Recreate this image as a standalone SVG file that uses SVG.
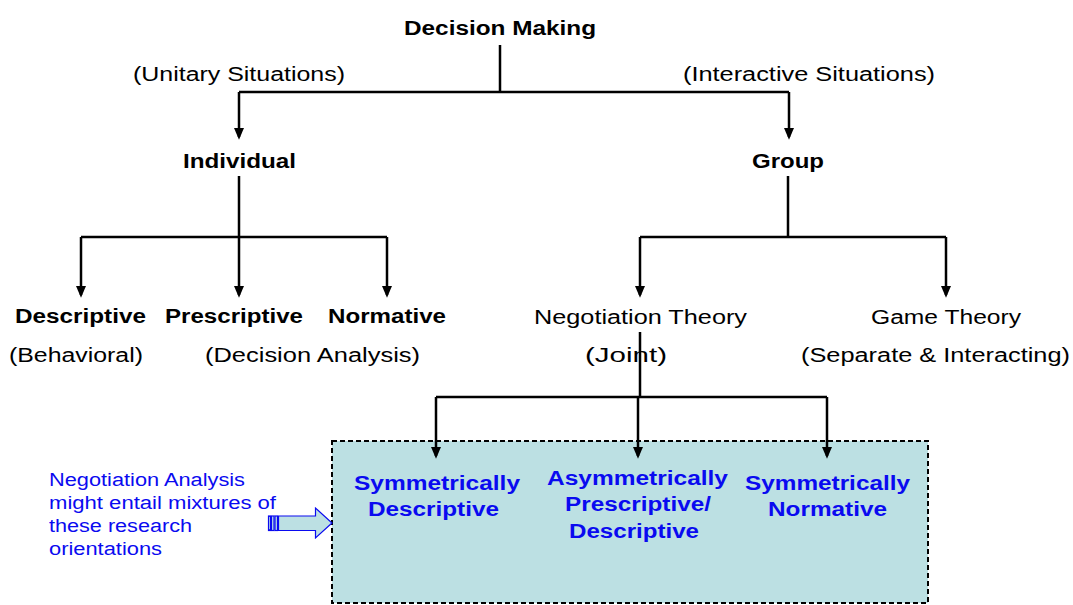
<svg xmlns="http://www.w3.org/2000/svg" width="1073" height="605" viewBox="0 0 1073 605">
  <style>
    .t { font-family: "Liberation Sans", Arial, sans-serif; font-size: 20px; fill: #000; text-anchor: start; }
    .b { font-weight: bold; }
    .blue { fill: #0a0af0; font-weight: bold; }
    .note { font-family: "Liberation Sans", Arial, sans-serif; font-size: 18px; fill: #0a0af0; }
    .wire { stroke: #000; stroke-width: 2.5; fill: none; }
    .arr { marker-end: url(#ah); }
  </style>
  <defs>
    <marker id="ah" markerUnits="userSpaceOnUse" markerWidth="12" markerHeight="14" viewBox="0 0 13 11" refX="10" refY="5.5" orient="auto">
      <path d="M0,0 L13,5.5 L0,11 Z" fill="#000"/>
    </marker>
  </defs>

  <rect width="1073" height="605" fill="#fff"/>

  <!-- shaded region holding the negotiation orientations -->
  <g id="orientations-box">
    <rect x="332" y="441" width="596" height="162" fill="#bce0e3" stroke="#000" stroke-width="2" stroke-dasharray="5,3"/>
  </g>

  <!-- connectors -->
  <g id="connectors">
    <path class="wire" d="M500,45 V92 M239,92 H789"/>
    <path class="wire arr" d="M239,92 V137"/>
    <path class="wire arr" d="M789,92 V137"/>

    <path class="wire arr" d="M239,176 V295"/>
    <path class="wire" d="M81,237 H387"/>
    <path class="wire arr" d="M81,237 V295"/>
    <path class="wire arr" d="M387,237 V295"/>

    <path class="wire" d="M788,176 V237 M640,237 H946"/>
    <path class="wire arr" d="M640,237 V295"/>
    <path class="wire arr" d="M946,237 V295"/>

    <path class="wire" d="M640,332 V397 M436,397 H827"/>
    <path class="wire arr" d="M436,397 V456"/>
    <path class="wire arr" d="M638,397 V456"/>
    <path class="wire arr" d="M827,397 V456"/>
  </g>

  <g id="decision-making">
    <text class="t b" x="404" y="35" textLength="192" lengthAdjust="spacingAndGlyphs">Decision Making</text>
  </g>
  <g id="unitary-label">
    <text class="t" x="133" y="81" textLength="212" lengthAdjust="spacingAndGlyphs">(Unitary Situations)</text>
  </g>
  <g id="interactive-label">
    <text class="t" x="683" y="81" textLength="252" lengthAdjust="spacingAndGlyphs">(Interactive Situations)</text>
  </g>
  <g id="individual">
    <text class="t b" x="183" y="168" textLength="113" lengthAdjust="spacingAndGlyphs">Individual</text>
  </g>
  <g id="group">
    <text class="t b" x="752" y="168" textLength="72" lengthAdjust="spacingAndGlyphs">Group</text>
  </g>
  <g id="descriptive">
    <text class="t b" x="15" y="323" textLength="131" lengthAdjust="spacingAndGlyphs">Descriptive</text>
    <text class="t" x="9" y="362" textLength="134" lengthAdjust="spacingAndGlyphs">(Behavioral)</text>
  </g>
  <g id="prescriptive">
    <text class="t b" x="165" y="323" textLength="138" lengthAdjust="spacingAndGlyphs">Prescriptive</text>
    <text class="t" x="205" y="362" textLength="215" lengthAdjust="spacingAndGlyphs">(Decision Analysis)</text>
  </g>
  <g id="normative">
    <text class="t b" x="328" y="323" textLength="118" lengthAdjust="spacingAndGlyphs">Normative</text>
  </g>
  <g id="negotiation-theory">
    <text class="t" x="534" y="324" textLength="213" lengthAdjust="spacingAndGlyphs">Negotiation Theory</text>
    <text class="t" x="585" y="362" textLength="82" lengthAdjust="spacingAndGlyphs">(Joint)</text>
  </g>
  <g id="game-theory">
    <text class="t" x="871" y="324" textLength="150" lengthAdjust="spacingAndGlyphs">Game Theory</text>
    <text class="t" x="801" y="362" textLength="269" lengthAdjust="spacingAndGlyphs">(Separate &amp; Interacting)</text>
  </g>

  <g id="symmetrically-descriptive">
    <text class="t blue" x="354" y="490" textLength="166" lengthAdjust="spacingAndGlyphs">Symmetrically</text>
    <text class="t blue" x="368" y="516" textLength="131" lengthAdjust="spacingAndGlyphs">Descriptive</text>
  </g>
  <g id="asymmetrically-prescriptive-descriptive">
    <text class="t blue" x="547" y="485" textLength="181" lengthAdjust="spacingAndGlyphs">Asymmetrically</text>
    <text class="t blue" x="565" y="511" textLength="146" lengthAdjust="spacingAndGlyphs">Prescriptive/</text>
    <text class="t blue" x="569" y="538" textLength="130" lengthAdjust="spacingAndGlyphs">Descriptive</text>
  </g>
  <g id="symmetrically-normative">
    <text class="t blue" x="745" y="490" textLength="165" lengthAdjust="spacingAndGlyphs">Symmetrically</text>
    <text class="t blue" x="768" y="516" textLength="119" lengthAdjust="spacingAndGlyphs">Normative</text>
  </g>

  <g id="negotiation-analysis-note">
    <text class="note" x="49" y="486" textLength="196" lengthAdjust="spacingAndGlyphs">Negotiation Analysis</text>
    <text class="note" x="49" y="509" textLength="227" lengthAdjust="spacingAndGlyphs">might entail mixtures of</text>
    <text class="note" x="49" y="532" textLength="143" lengthAdjust="spacingAndGlyphs">these research</text>
    <text class="note" x="49" y="555" textLength="113" lengthAdjust="spacingAndGlyphs">orientations</text>
  </g>

  <!-- striped block arrow pointing into the shaded box -->
  <g id="note-arrow" stroke="#0a0af0" stroke-width="1.2" fill="#bce0e3">
    <rect x="268.5" y="516" width="2" height="14.5"/>
    <rect x="271.5" y="516" width="2.5" height="14.5"/>
    <rect x="275" y="516" width="2.5" height="14.5"/>
    <path d="M278.5,516 H315.5 V508 L332,523 L315.5,538 V530.5 H278.5 Z"/>
  </g>
</svg>
